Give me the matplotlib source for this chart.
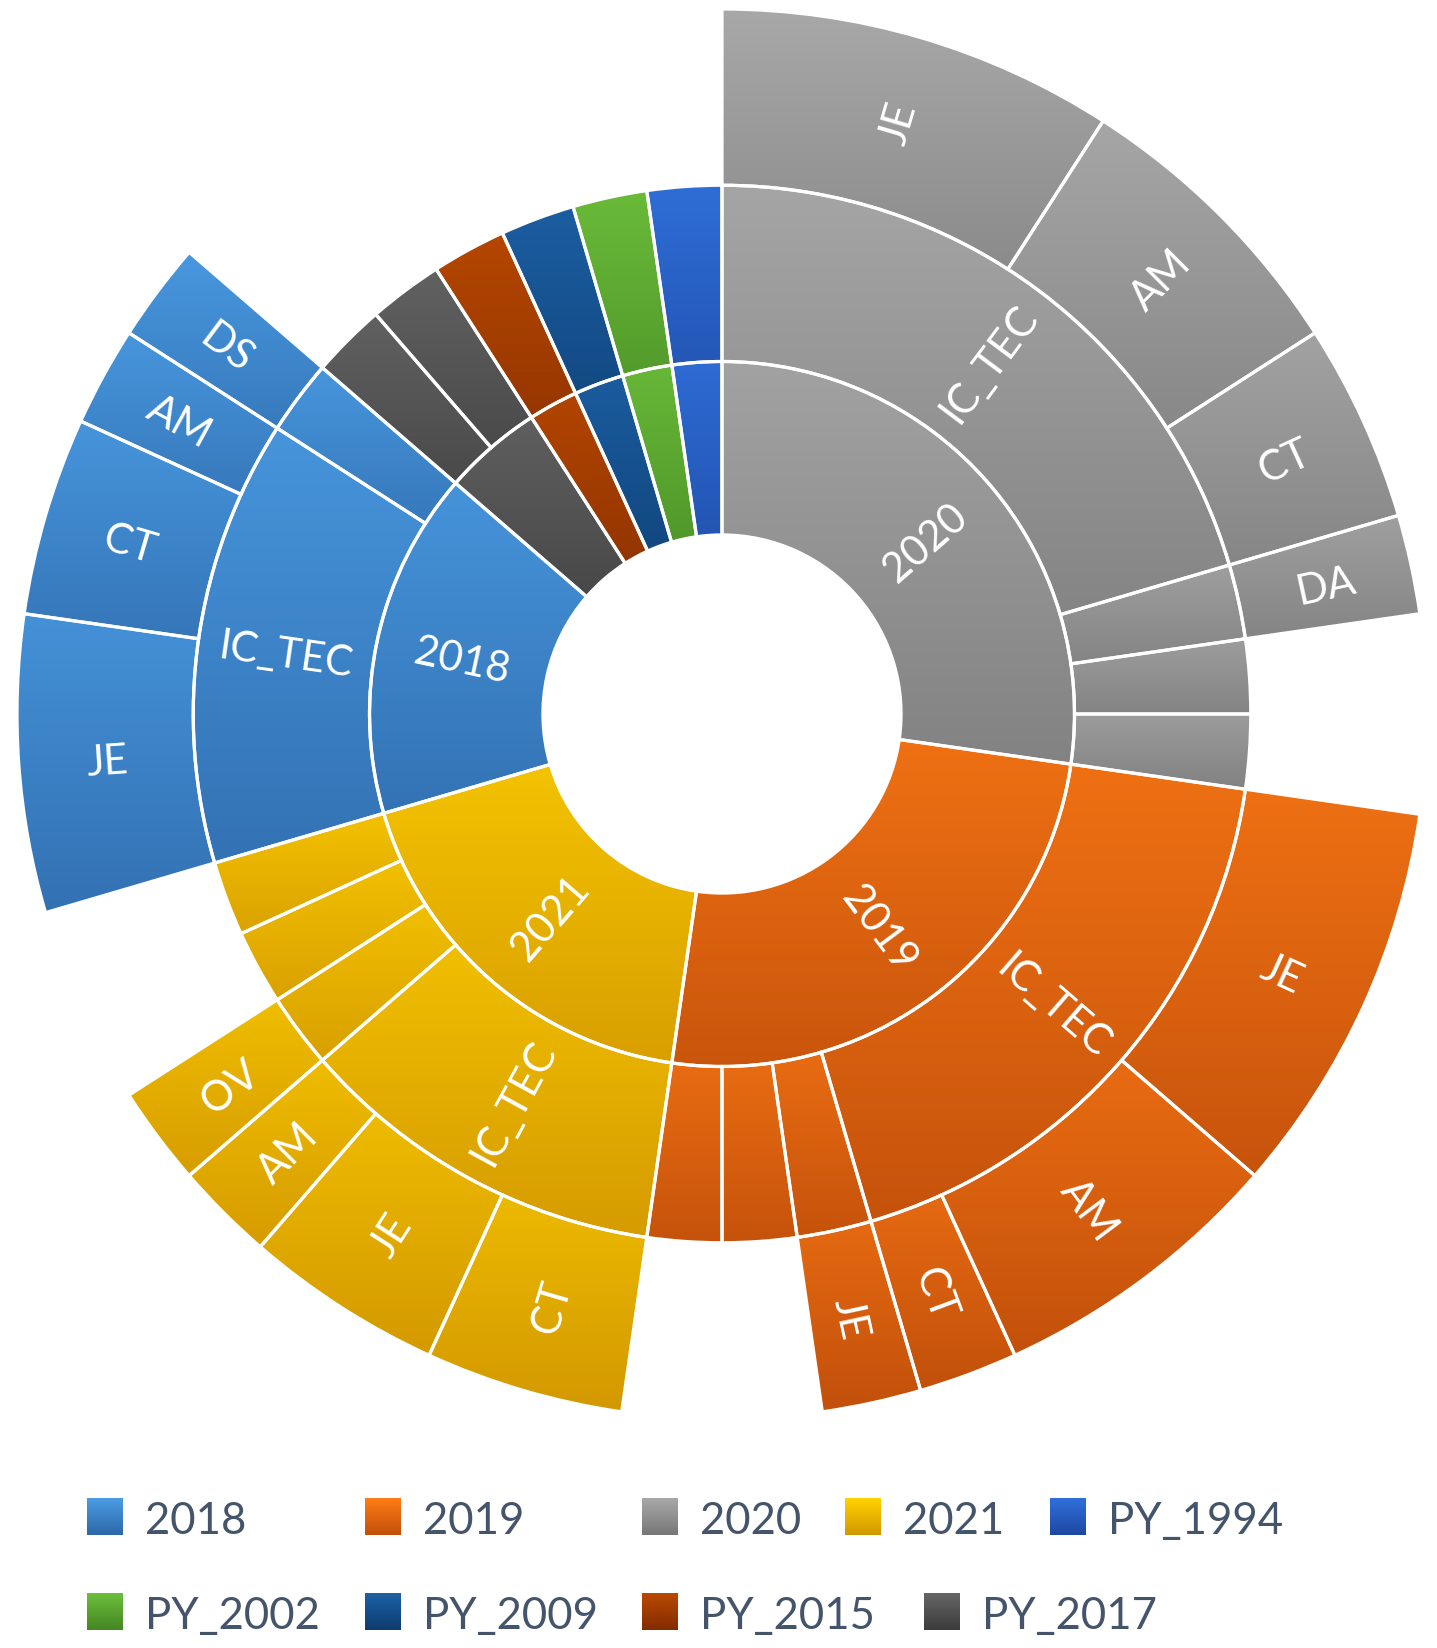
import numpy as np
import matplotlib.pyplot as plt
from matplotlib.colors import LinearSegmentedColormap

# inner ring: years / projects
years = ['2020', '2019', '2021', '2018', 'PY_2017', 'PY_2015', 'PY_2009', 'PY_2002', 'PY_1994']
year_counts = [12, 11, 8, 7, 2, 1, 1, 1, 1]

# middle ring
mid_parent = (['2020'] * 4 + ['2019'] * 4 + ['2021'] * 4 + ['2018'] * 2
              + ['PY_2017'] * 2 + ['PY_2015', 'PY_2009', 'PY_2002', 'PY_1994'])
mid_labels = ['IC_TEC', '', '', ''] * 3 + ['IC_TEC', ''] + [''] * 6
mid_counts = [9, 1, 1, 1, 8, 1, 1, 1, 5, 1, 1, 1, 6, 1, 1, 1, 1, 1, 1, 1]

# outer ring (parent = index in the middle ring)
outer_parent = [0, 0, 0, 1, 4, 4, 4, 5, 8, 8, 8, 9, 12, 12, 12, 13]
outer_labels = ['JE', 'AM', 'CT', 'DA', 'JE', 'AM', 'CT', 'JE',
                'CT', 'JE', 'AM', 'OV', 'JE', 'CT', 'AM', 'DS']
outer_counts = [4, 3, 2, 1, 4, 3, 1, 1, 2, 2, 1, 1, 3, 2, 1, 1]

legend_rows = [['2018', '2019', '2020', '2021', 'PY_1994'],
               ['PY_2002', 'PY_2009', 'PY_2015', 'PY_2017']]

colors = {
    '2018': ('#4b9ce4', '#2d68a8'),
    '2019': ('#ff7c16', '#c2500b'),
    '2020': ('#a8a8a8', '#777777'),
    '2021': ('#ffd200', '#d39800'),
    'PY_1994': ('#3070da', '#1d48a2'),
    'PY_2002': ('#6cbe3a', '#458724'),
    'PY_2009': ('#1d60a5', '#0d3d70'),
    'PY_2015': ('#b94900', '#832c00'),
    'PY_2017': ('#656565', '#3c3c3c'),
}

FONT = ['Lato', 'DejaVu Sans']

# pixel layout of the 1437x1649 picture
W, H = 1437, 1649
CX, CY, RPX = 722, 715, 705


def px2data(px, py):
    return (px - CX) / RPX, (CY - py) / RPX


fig = plt.figure(figsize=(W / 100, H / 100), dpi=100)
ax = fig.add_axes([0, 0, 1, 1])

radii = [0.254, 0.5, 0.75, 1.0]

# outer ring values with empty gaps where a middle segment has no children
outer_vals, outer_series, outer_text = [], [], []
for i, (par, cnt) in enumerate(zip(mid_parent, mid_counts)):
    kids = [k for k, p in enumerate(outer_parent) if p == i]
    if kids:
        for k in kids:
            outer_vals.append(outer_counts[k])
            outer_series.append(par)
            outer_text.append(outer_labels[k])
    else:
        outer_vals.append(cnt)
        outer_series.append(None)
        outer_text.append('')

inner_text = [y if not y.startswith('PY') else '' for y in years]

rings = [
    (year_counts, years, inner_text, radii[1], radii[1] - radii[0]),
    (mid_counts, mid_parent, mid_labels, radii[2], radii[2] - radii[1]),
    (outer_vals, outer_series, outer_text, radii[3], radii[3] - radii[2]),
]


def gradient_fill(ext, series, clip=None):
    y0, y1 = ext.y0, ext.y1
    ys = np.linspace(y1, y0, 128)
    t_loc = (y1 - ys) / max(y1 - y0, 1e-9)
    t_glob = np.clip((1.0 - ys) / 2.0, 0, 1)
    t = 0.5 * t_loc + 0.5 * t_glob
    cmap = LinearSegmentedColormap.from_list(series, colors[series])
    im = ax.imshow(t[:, None], extent=[ext.x0, ext.x1, y0, y1], cmap=cmap,
                   vmin=0, vmax=1, origin='upper', aspect='auto',
                   interpolation='bilinear', zorder=1)
    if clip is not None:
        im.set_clip_path(clip)
    return im


for values, series, texts, r_out, width in rings:
    wedges, _ = ax.pie(values, radius=r_out, startangle=90, counterclock=False,
                       wedgeprops=dict(width=width, edgecolor='white',
                                       linewidth=2.3, facecolor='none'))
    for w, s, t in zip(wedges, series, texts):
        if s is None:
            w.set_visible(False)
            continue
        w.set_zorder(2)
        gradient_fill(w.get_path().get_extents(), s, clip=w)
        if t:
            ang = np.deg2rad((w.theta1 + w.theta2) / 2)
            rm = r_out - width / 2
            rot = np.rad2deg(ang) % 360
            if 90 < rot < 270:
                rot -= 180
            ax.text(rm * np.cos(ang), rm * np.sin(ang), t, rotation=rot,
                    rotation_mode='anchor', ha='center', va='center_baseline',
                    color='white', fontsize=30, family=FONT, zorder=3)

# legend
legend_x = [[87, 365, 642, 845, 1050], [87, 365, 642, 924]]
legend_y = [1518, 1613]
sw, sh = 36, 37
for row, xs, yc in zip(legend_rows, legend_x, legend_y):
    for name, x in zip(row, xs):
        x0, y0 = px2data(x, yc + sh / 2)
        x1, y1 = px2data(x + sw, yc - sh / 2)
        cmap = LinearSegmentedColormap.from_list(name, colors[name])
        ax.imshow(np.linspace(0, 1, 32)[:, None], extent=[x0, x1, y0, y1], cmap=cmap,
                  vmin=0, vmax=1, origin='upper', aspect='auto', zorder=1)
        tx, ty = px2data(x + 58, yc)
        ax.text(tx, ty, name, ha='left', va='center_baseline', color='#44546a',
                fontsize=31.5, family=FONT)

xl = px2data(0, 0)
xr = px2data(W, H)
ax.set_xlim(xl[0], xr[0])
ax.set_ylim(xr[1], xl[1])
ax.set_aspect('auto')
ax.axis('off')

fig.savefig('out.png', dpi=100, facecolor='white')
